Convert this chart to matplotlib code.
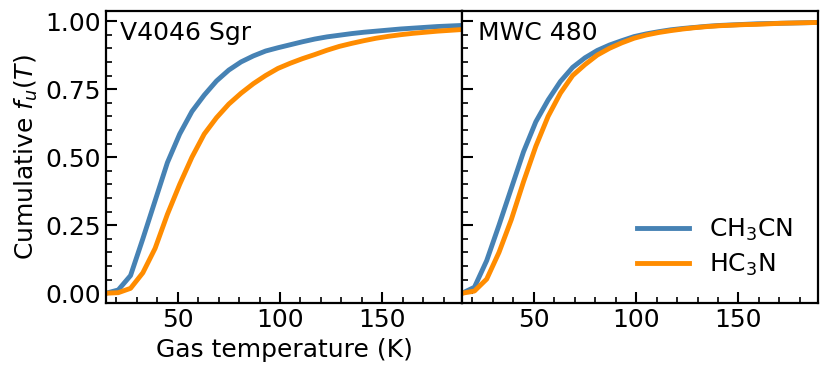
import numpy as np
import matplotlib
matplotlib.use("Agg")
import matplotlib.pyplot as plt

temperature = [15, 21, 27, 33, 39, 45, 51, 57, 63, 69, 75, 81, 87, 93, 99,
               105, 111, 117, 123, 129, 135, 141, 147, 153, 159, 165, 171, 177, 183, 189]

v4046_ch3cn = [0.0, 0.012, 0.065, 0.20, 0.34, 0.48, 0.585, 0.668, 0.728, 0.78, 0.82, 0.85,
               0.872, 0.89, 0.902, 0.913, 0.924, 0.934, 0.942, 0.948, 0.954, 0.959, 0.963,
               0.967, 0.971, 0.974, 0.977, 0.980, 0.982, 0.984]
v4046_hc3n = [0.0, 0.002, 0.018, 0.075, 0.165, 0.29, 0.40, 0.50, 0.585, 0.645, 0.695, 0.735,
              0.77, 0.80, 0.826, 0.845, 0.862, 0.877, 0.893, 0.907, 0.918, 0.928, 0.937,
              0.944, 0.950, 0.955, 0.959, 0.963, 0.966, 0.969]
mwc480_ch3cn = [0.0, 0.022, 0.12, 0.25, 0.385, 0.52, 0.63, 0.71, 0.778, 0.83, 0.865, 0.892,
                0.912, 0.928, 0.943, 0.953, 0.961, 0.968, 0.973, 0.977, 0.981, 0.984, 0.986,
                0.988, 0.990, 0.991, 0.992, 0.993, 0.994, 0.995]
mwc480_hc3n = [0.0, 0.008, 0.052, 0.15, 0.27, 0.41, 0.54, 0.65, 0.735, 0.80, 0.84, 0.875,
               0.90, 0.92, 0.937, 0.949, 0.958, 0.965, 0.971, 0.976, 0.980, 0.983, 0.985,
               0.987, 0.988, 0.990, 0.992, 0.993, 0.994, 0.995]

sources = ["V4046 Sgr", "MWC 480"]
labels = [r"CH$_3$CN", r"HC$_3$N"]
colors = ["#4682B4", "#FF8C00"]

fs = 18
fig = plt.figure(figsize=(8.3, 3.77), dpi=100)
fig.subplots_adjust(left=0.1277, right=0.9859, top=0.9708, bottom=0.1955, wspace=0)
ax1 = fig.add_subplot(1, 2, 1)
ax2 = fig.add_subplot(1, 2, 2, sharey=ax1)

data = [(v4046_ch3cn, v4046_hc3n), (mwc480_ch3cn, mwc480_hc3n)]
for ax, name, (a, b) in zip([ax1, ax2], sources, data):
    ax.plot(temperature, a, color=colors[0], lw=3.5, label=labels[0])
    ax.plot(temperature, b, color=colors[1], lw=3.5, label=labels[1])
    ax.set_xlim(15, 189)
    ax.set_ylim(-0.037, 1.037)
    ax.set_xticks([50, 100, 150])
    ax.set_xticks(np.arange(20, 190, 10), minor=True)
    ax.set_yticks([0, 0.25, 0.5, 0.75, 1.0])
    ax.set_yticks(np.arange(0, 1.01, 0.05), minor=True)
    ax.tick_params(which='both', direction='in', labelsize=fs)
    ax.tick_params(which='major', length=8, width=1.5)
    ax.tick_params(which='minor', length=4.5, width=1.2)
    for s in ax.spines.values():
        s.set_linewidth(1.6)
    ax.text(0.04 if ax is ax1 else 0.045, 0.965, name, transform=ax.transAxes,
            fontsize=fs, va='top', ha='left')

ax1.yaxis.set_major_formatter(matplotlib.ticker.FormatStrFormatter('%.2f'))
plt.setp(ax2.get_yticklabels(), visible=False)
ax1.set_ylabel(r"Cumulative $f_u(T)$", fontsize=fs)
ax1.set_xlabel("Gas temperature (K)", fontsize=fs)
ax2.legend(loc='lower right', frameon=False, fontsize=fs, handlelength=2.1,
           handletextpad=0.8, labelspacing=0.35, borderaxespad=0.6)

fig.savefig("out.png", dpi=100)
